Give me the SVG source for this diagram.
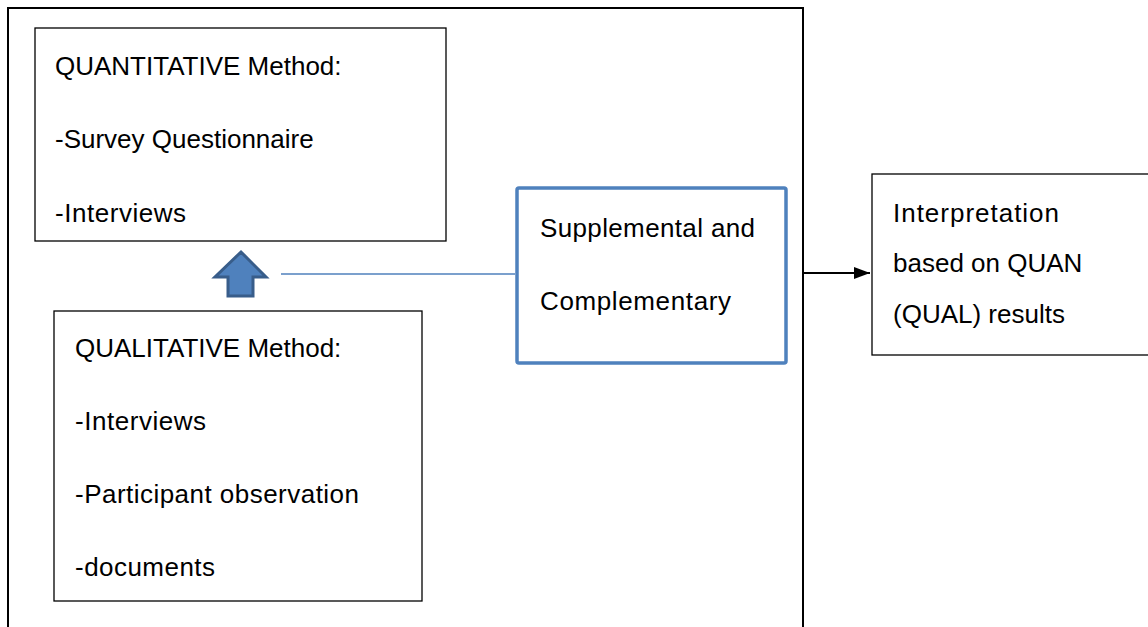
<svg xmlns="http://www.w3.org/2000/svg" width="1148" height="627" viewBox="0 0 1148 627">
<defs>
<style>
.t{font-family:"Liberation Sans",Arial,sans-serif;font-size:26px;fill:#000}
.box{fill:#fff;stroke:#000;stroke-width:1.3}
</style>
<marker id="ah" markerWidth="16" markerHeight="12" refX="16" refY="6" orient="auto" markerUnits="userSpaceOnUse">
<path d="M0,0 L16,6 L0,12 Z" fill="#000"/>
</marker>
</defs>
<rect width="1148" height="627" fill="#fff"/>
<g id="frame"><rect x="8" y="8" width="795" height="660" fill="none" stroke="#000" stroke-width="2"/></g>
<g id="quant">
<rect class="box" x="35" y="28" width="411" height="213"/>
<text class="t" x="55" y="75">QUANTITATIVE Method:</text>
<text class="t" x="55" y="148">-Survey Questionnaire</text>
<text class="t" x="55" y="222" textLength="131" lengthAdjust="spacing">-Interviews</text>
</g>
<g id="qual">
<rect class="box" x="54" y="311" width="368" height="290"/>
<text class="t" x="75" y="357">QUALITATIVE Method:</text>
<text class="t" x="75" y="430" textLength="131" lengthAdjust="spacing">-Interviews</text>
<text class="t" x="75" y="503" textLength="284" lengthAdjust="spacing">-Participant observation</text>
<text class="t" x="75" y="576" textLength="140" lengthAdjust="spacing">-documents</text>
</g>
<g id="supp">
<rect x="517" y="188" width="269" height="175" rx="2" fill="#fff" stroke="#4F81BD" stroke-width="3.5"/>
<text class="t" x="540" y="237" textLength="215" lengthAdjust="spacing">Supplemental and</text>
<text class="t" x="540" y="310" textLength="191" lengthAdjust="spacing">Complementary</text>
</g>
<g id="interp">
<rect class="box" x="872" y="174" width="280" height="181"/>
<text class="t" x="893" y="222" textLength="166" lengthAdjust="spacing">Interpretation</text>
<text class="t" x="893" y="272">based on QUAN</text>
<text class="t" x="893" y="323">(QUAL) results</text>
</g>
<g id="uparrow">
<path d="M241,252 L266,277 L253,277 L253,296 L228,296 L228,277 L215,277 Z" fill="#4F81BD" stroke="#385D8A" stroke-width="3" stroke-linejoin="miter"/>
</g>
<g id="connectors">
<line x1="281" y1="274" x2="515" y2="274" stroke="#4F81BD" stroke-width="1.5"/>
<line x1="803" y1="273" x2="870" y2="273" stroke="#000" stroke-width="2" marker-end="url(#ah)"/>
</g>
</svg>
